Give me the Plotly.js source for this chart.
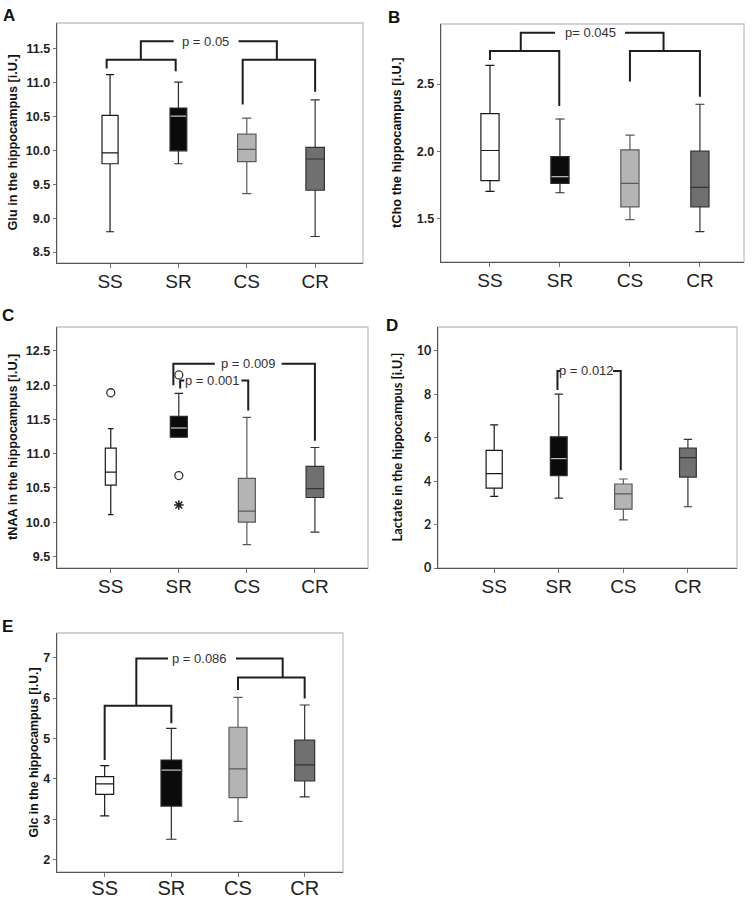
<!DOCTYPE html>
<html>
<head>
<meta charset="utf-8">
<script src="https://cdn.plot.ly/plotly-3.0.1.min.js"></script>
<style>html,body{margin:0;padding:0;background:#fff}#chart{width:753px;height:898px}</style>
</head>
<body>
<div id="chart"></div>
<script>
// ---------- DATA ----------
const groups = ['SS', 'SR', 'CS', 'CR'];

// Panel A: Glu
const gluLow    = [8.80, 9.80, 9.36, 8.73];
const gluQ1     = [9.80, 9.99, 9.83, 9.41];
const gluMedian = [9.96, 10.50, 10.01, 9.87];
const gluQ3     = [10.51, 10.62, 10.235, 10.04];
const gluHigh   = [11.11, 11.00, 10.47, 10.74];

// Panel B: tCho
const tchoLow    = [1.70, 1.69, 1.49, 1.40];
const tchoQ1     = [1.78, 1.76, 1.585, 1.585];
const tchoMedian = [2.005, 1.81, 1.76, 1.73];
const tchoQ3     = [2.28, 1.96, 2.01, 2.00];
const tchoHigh   = [2.64, 2.24, 2.12, 2.35];

// Panel C: tNAA
const tnaaLow    = [10.11, 11.24, 9.67, 9.855];
const tnaaQ1     = [10.54, 11.24, 10.00, 10.36];
const tnaaMedian = [10.73, 11.375, 10.16, 10.49];
const tnaaQ3     = [11.08, 11.545, 10.64, 10.815];
const tnaaHigh   = [11.365, 11.88, 11.53, 11.09];
const tnaaOutlierGroup = [0, 1, 1];
const tnaaOutlierValue = [11.89, 12.15, 10.68];
const tnaaExtremeGroup = [1];
const tnaaExtremeValue = [10.25];

// Panel D: Lactate
const lacLow    = [3.30, 3.22, 2.22, 2.82];
const lacQ1     = [3.68, 4.25, 2.71, 4.19];
const lacMedian = [4.345, 5.04, 3.41, 5.08];
const lacQ3     = [5.42, 6.04, 3.87, 5.52];
const lacHigh   = [6.59, 8.01, 4.10, 5.92];

// Panel E: Glc
const glcLow    = [3.09, 2.51, 2.95, 3.56];
const glcQ1     = [3.62, 3.33, 3.54, 3.95];
const glcMedian = [3.88, 4.22, 4.25, 4.35];
const glcQ3     = [4.06, 4.47, 5.28, 4.96];
const glcHigh   = [4.33, 5.25, 6.02, 5.83];

// significance labels
const pA = 'p = 0.05';
const pB = 'p= 0.045';
const pC1 = 'p = 0.009';
const pC2 = 'p = 0.001';
const pD = 'p = 0.012';
const pE = 'p = 0.086';

// significance brackets (group index positions, y levels in data units)
const bracketsA = [
  {x: [-0.05, -0.05, 0.96, 0.96], y: [11.20, 11.33, 11.33, 11.16]},
  {x: [1.94, 1.94, 3.0, 3.0], y: [10.67, 11.33, 11.33, 10.86]},
  {x: [0.45, 0.45, 0.93], y: [11.33, 11.60, 11.60]},
  {x: [1.88, 2.44, 2.44], y: [11.60, 11.60, 11.33]}
];
const bracketsB = [
  {x: [0, 0, 0.99, 0.99], y: [2.68, 2.746, 2.746, 2.336]},
  {x: [2.0, 2.0, 3.0, 3.0], y: [2.52, 2.746, 2.746, 2.405]},
  {x: [0.44, 0.44, 0.93], y: [2.746, 2.883, 2.883]},
  {x: [1.93, 2.48, 2.48], y: [2.883, 2.883, 2.746]}
];
const bracketsC = [
  {x: [0.92, 0.92, 1.53], y: [12.0, 12.315, 12.315]},
  {x: [2.51, 3.0, 3.0], y: [12.315, 12.315, 11.19]},
  {x: [1.02, 1.02, 1.08], y: [11.95, 12.07, 12.07]},
  {x: [1.92, 2.02, 2.02], y: [12.07, 12.07, 11.63]}
];
const bracketsD = [
  {x: [0.98, 0.98, 1.03], y: [8.2, 9.075, 9.075]},
  {x: [1.84, 1.96, 1.96], y: [9.075, 9.075, 4.5]}
];
const bracketsE = [
  {x: [0, 0, 1.0, 1.0], y: [4.47, 5.81, 5.81, 5.38]},
  {x: [2.0, 2.0, 3.0, 3.0], y: [6.20, 6.51, 6.51, 5.99]},
  {x: [0.475, 0.475, 0.95], y: [5.81, 6.98, 6.98]},
  {x: [1.97, 2.67, 2.67], y: [6.98, 6.98, 6.51]}
];

// ---------- STYLE ----------
const fillColors   = ['#ffffff', '#0b0b0b', '#b4b4b4', '#707070'];
const lineColors   = ['#1a1a1a', '#2a2a2a', '#5a5a5a', '#333333'];
const W = 753, H = 898;

const panels = [
  {k: 1, letter: 'A', low: gluLow, q1: gluQ1, med: gluMedian, q3: gluQ3, high: gluHigh,
   title: 'Glu in the hippocampus [i.U.]', px: [57, 363], py: [23, 263],
   xr: [-0.776, 3.70], yr: [8.34, 11.87], yt: [8.5, 9, 9.5, 10, 10.5, 11, 11.5], fmt: 1,
   widths: [0.235, 0.245, 0.27, 0.27], brackets: bracketsA,
   ptext: [{t: pA, x: 1.40, y: 11.60}], titleX: 12.5, titleSize: 12.7, letterPos: [9, 15],
   font: 'Arial', xfs: 19, xstand: -3},
  {k: 2, letter: 'B', low: tchoLow, q1: tchoQ1, med: tchoMedian, q3: tchoQ3, high: tchoHigh,
   title: 'tCho the hippocampus [i.U.]', px: [441, 744], py: [24, 262],
   xr: [-0.70, 3.63], yr: [1.174, 2.948], yt: [1.5, 2.0, 2.5], fmt: 1,
   widths: [0.26, 0.26, 0.26, 0.26], brackets: bracketsB,
   ptext: [{t: pB, x: 1.43, y: 2.883}], titleX: 396, titleSize: 12.8, letterPos: [394, 18],
   font: 'Arial', xfs: 19, xstand: -3},
  {k: 3, letter: 'C', low: tnaaLow, q1: tnaaQ1, med: tnaaMedian, q3: tnaaQ3, high: tnaaHigh,
   title: 'tNAA in the hippocampus [i.U.]', px: [57, 368], py: [327, 568],
   xr: [-0.79, 3.78], yr: [9.33, 12.85], yt: [9.5, 10, 10.5, 11, 11.5, 12, 12.5], fmt: 1,
   widths: [0.16, 0.25, 0.25, 0.26], brackets: bracketsC,
   ptext: [{t: pC1, x: 2.02, y: 12.315}, {t: pC2, x: 1.50, y: 12.07}], titleX: 12.5, titleSize: 12.7,
   letterPos: [8, 316], font: 'Arial', xfs: 19, xstand: -3},
  {k: 4, letter: 'D', low: lacLow, q1: lacQ1, med: lacMedian, q3: lacQ3, high: lacHigh,
   title: 'Lactate in the hippocampus [i.U.]', px: [438, 737], py: [327, 568],
   xr: [-0.87, 3.76], yr: [0, 11.1], yt: [0, 2, 4, 6, 8, 10], fmt: 0,
   widths: [0.25, 0.26, 0.27, 0.26], brackets: bracketsD,
   ptext: [{t: pD, x: 1.43, y: 9.075}], titleX: 396, titleSize: 13, letterPos: [392, 325],
   font: 'Lato', xfs: 19, xstand: -3},
  {k: 5, letter: 'E', low: glcLow, q1: glcQ1, med: glcMedian, q3: glcQ3, high: glcHigh,
   title: 'Glc in the hippocampus [i.U.]', px: [57, 343], py: [633, 872],
   xr: [-0.715, 3.575], yr: [1.70, 7.61], yt: [2, 3, 4, 5, 6, 7], fmt: 0,
   widths: [0.27, 0.31, 0.27, 0.30], brackets: bracketsE,
   ptext: [{t: pE, x: 1.42, y: 6.98}], titleX: 33, titleSize: 12.3, letterPos: [8, 626],
   font: 'Arial', xfs: 20, xstand: -6}
];

const traces = [];
const annotations = [];
const shapes = [];
const layout = {
  width: W, height: H,
  margin: {l: 0, r: 0, t: 0, b: 0},
  paper_bgcolor: '#ffffff', plot_bgcolor: '#ffffff',
  showlegend: false,
  font: {family: 'Arial, Liberation Sans, sans-serif', color: '#222'}
};

panels.forEach(p => {
  const xa = 'x' + (p.k === 1 ? '' : p.k);
  const ya = 'y' + (p.k === 1 ? '' : p.k);
  const xKey = 'xaxis' + (p.k === 1 ? '' : p.k);
  const yKey = 'yaxis' + (p.k === 1 ? '' : p.k);

  groups.forEach((g, i) => {
    traces.push({
      type: 'box', xaxis: xa, yaxis: ya, name: g,
      x: [i], q1: [p.q1[i]], median: [p.med[i]], q3: [p.q3[i]],
      lowerfence: [p.low[i]], upperfence: [p.high[i]],
      width: p.widths[i], whiskerwidth: 0.5, boxpoints: false,
      fillcolor: fillColors[i], line: {color: lineColors[i], width: 1.2},
      hoverinfo: 'skip', showlegend: false
    });
  });
  // light median line on the black box (SR)
  traces.push({
    type: 'scatter', mode: 'lines', xaxis: xa, yaxis: ya,
    x: [1 - p.widths[1] / 2 + 0.01, 1 + p.widths[1] / 2 - 0.01],
    y: [p.med[1], p.med[1]],
    line: {color: '#bdbdbd', width: 1.2}, hoverinfo: 'skip', showlegend: false
  });

  p.brackets.forEach(b => {
    traces.push({
      type: 'scatter', mode: 'lines', xaxis: xa, yaxis: ya,
      x: b.x, y: b.y, line: {color: '#1e1e1e', width: 2},
      hoverinfo: 'skip', showlegend: false
    });
  });

  p.ptext.forEach(t => {
    annotations.push({
      xref: xa, yref: ya, x: t.x, y: t.y, text: t.t, showarrow: false,
      font: {size: 13, color: '#333', family: 'Arial, Liberation Sans, sans-serif'},
      xanchor: 'center', yanchor: 'middle'
    });
  });

  layout[xKey] = {
    domain: [p.px[0] / W, p.px[1] / W], anchor: ya,
    range: p.xr, tickvals: [0, 1, 2, 3], ticktext: groups,
    showgrid: false, zeroline: false, showline: true, linecolor: '#555', linewidth: 1.3,
    ticks: 'outside', ticklen: 4, tickcolor: '#777', tickwidth: 1,
    ticklabelstandoff: p.xstand,
    tickfont: {size: p.xfs, color: '#222', family: 'Arial, Liberation Sans, sans-serif'},
    fixedrange: true
  };
  layout[yKey] = {
    domain: [1 - p.py[1] / H, 1 - p.py[0] / H], anchor: xa,
    range: p.yr, tickvals: p.yt, ticktext: p.yt.map(v => v.toFixed(p.fmt)),
    showgrid: false, zeroline: false, showline: true, linecolor: '#555', linewidth: 1.3,
    ticks: 'outside', ticklen: 3, tickcolor: '#777', tickwidth: 1,
    tickfont: {size: 12.5, color: '#222', family: p.font + ', Arial, sans-serif', weight: 'bold'},
    fixedrange: true
  };

  shapes.push({
    type: 'rect', xref: xa + ' domain', yref: ya + ' domain',
    x0: 0, x1: 1, y0: 0, y1: 1, line: {color: '#c4c4c4', width: 1.3}, layer: 'below'
  });

  annotations.push({
    xref: 'paper', yref: 'paper', x: p.titleX / W,
    y: 1 - ((p.py[0] + p.py[1]) / 2) / H,
    text: p.title, textangle: -90, showarrow: false,
    font: {size: p.titleSize, color: '#111', family: p.font + ', Arial, sans-serif', weight: 'bold'},
    xanchor: 'center', yanchor: 'middle'
  });
  annotations.push({
    xref: 'paper', yref: 'paper', x: p.letterPos[0] / W, y: 1 - p.letterPos[1] / H,
    text: '<b>' + p.letter + '</b>', showarrow: false,
    font: {size: 17, color: '#111', family: 'Arial, Liberation Sans, sans-serif'},
    xanchor: 'center', yanchor: 'middle'
  });
});

// outliers in panel C
traces.push({
  type: 'scatter', mode: 'markers', xaxis: 'x3', yaxis: 'y3',
  x: tnaaOutlierGroup, y: tnaaOutlierValue,
  marker: {symbol: 'circle-open', size: 8, color: '#333', line: {width: 1.3, color: '#333'}},
  hoverinfo: 'skip', showlegend: false
});
traces.push({
  type: 'scatter', mode: 'markers', xaxis: 'x3', yaxis: 'y3',
  x: tnaaExtremeGroup, y: tnaaExtremeValue,
  marker: {symbol: 'asterisk-open', size: 8, color: '#222', line: {width: 1.5, color: '#222'}},
  hoverinfo: 'skip', showlegend: false
});

layout.annotations = annotations;
layout.shapes = shapes;

Plotly.newPlot('chart', traces, layout, {staticPlot: true, displayModeBar: false});
</script>
</body>
</html>
